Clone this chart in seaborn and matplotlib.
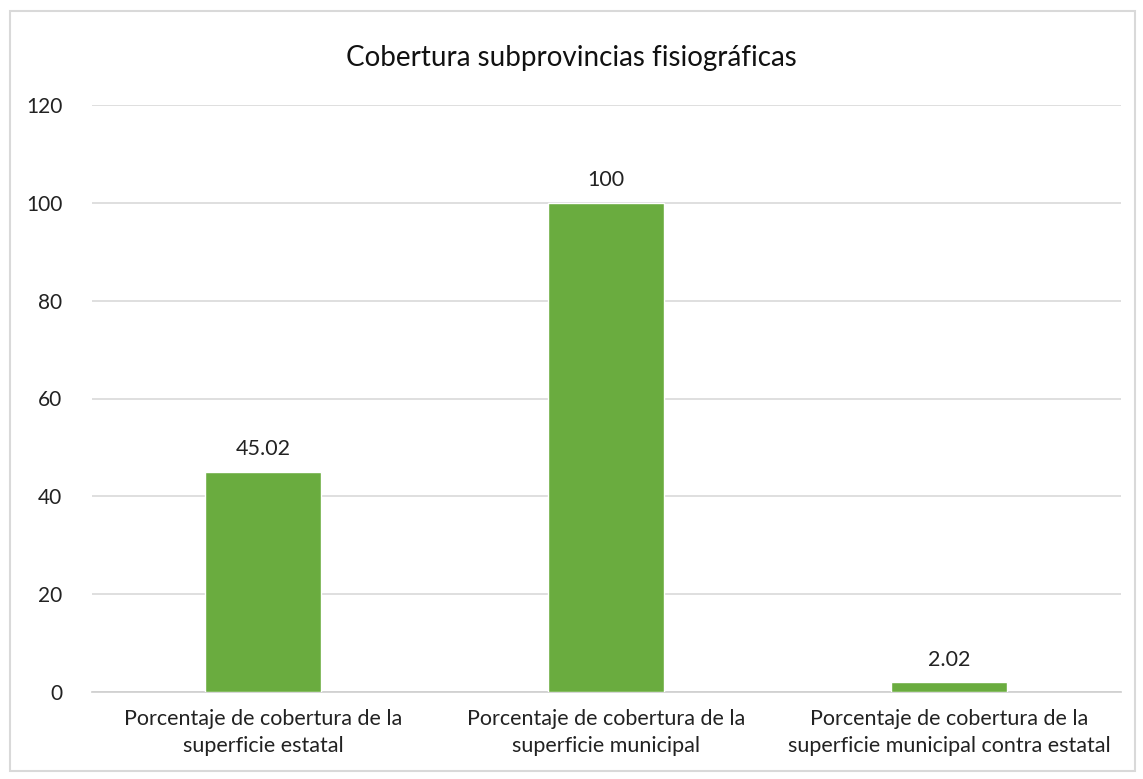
import matplotlib
matplotlib.use("Agg")
import matplotlib.pyplot as plt
import seaborn as sns
import pandas as pd
from matplotlib.patches import Rectangle

categories = ["Porcentaje de cobertura de la\nsuperficie estatal",
              "Porcentaje de cobertura de la\nsuperficie municipal",
              "Porcentaje de cobertura de la\nsuperficie municipal contra estatal"]
values = [45.02, 100, 2.02]
value_labels = ["45.02", "100", "2.02"]
title = "Cobertura subprovincias fisiográficas"
yticks = [0, 20, 40, 60, 80, 100, 120]

sns.set_theme(style="white")
plt.rcParams['font.family'] = ['Lato', 'DejaVu Sans']

df = pd.DataFrame({"cat": categories, "val": values})

fig = plt.figure(figsize=(11.43, 7.79), dpi=100)
ax = fig.add_axes([91.5/1143, 1 - 692/779, (1120.5-91.5)/1143, (692-105)/779])

sns.barplot(data=df, x="cat", y="val", color="#6aac3f", width=0.34, ax=ax,
            saturation=1, zorder=3)

ax.set_ylim(0, 120)
ax.set_yticks(yticks)
ax.set_yticklabels([str(t) for t in yticks], fontsize=15, color="#222222")
ax.tick_params(axis='y', length=0, pad=21)
ax.tick_params(axis='x', length=0, pad=12, labelsize=15.5, labelcolor="#222222")
for lab in ax.get_xticklabels():
    lab.set_linespacing(1.45)
ax.yaxis.grid(True, color="#d9d9d9", linewidth=1.2, zorder=0)
ax.set_axisbelow(True)
for s in ["top", "right", "left"]:
    ax.spines[s].set_visible(False)
ax.spines["bottom"].set_color("#d0d0d0")
ax.set_xlabel("")
ax.set_ylabel("")

for i, (v, lab) in enumerate(zip(values, value_labels)):
    ax.annotate(lab, (i, v), xytext=(0, 9), textcoords="offset points",
                ha="center", va="bottom", fontsize=15.5, color="#222222")

fig.text(0.5, 1 - 58/779, title, ha="center", va="center", fontsize=20, color="#111111")

fig.patches.append(Rectangle((10/1143, 8/779), 1125/1143, 760/779, transform=fig.transFigure,
                             fill=False, edgecolor="#d9d9d9", linewidth=1.5))

fig.savefig("out.png", dpi=100, facecolor="white")
